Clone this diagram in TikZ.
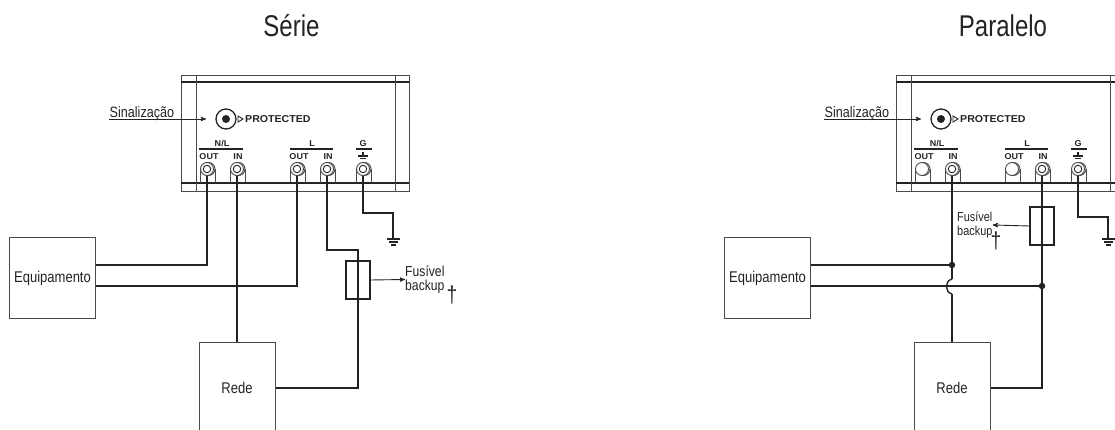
\documentclass[tikz,border=0pt]{standalone}
\usepackage{fontspec}
\setmainfont{Liberation Sans}[FakeStretch=0.84]
\newfontfamily\titlefont{Liberation Sans}[FakeStretch=0.8]
\newfontfamily\panelfont{Liberation Sans}[FakeStretch=1.06]
\usepackage{tikz}
\usetikzlibrary{arrows}
\definecolor{wirecol}{HTML}{232323}
\definecolor{boxcol}{HTML}{4A4A4A}
\tikzset{
  sizedfont/.style = {font=\fontsize{#1}{#1}\selectfont},
  wire/.style = {draw=wirecol, line width=1.4pt},
  thinline/.style = {draw=boxcol, line width=0.9pt},
  blockbox/.style = {rectangle, draw=boxcol, line width=1pt, inner sep=0pt,
    align=center, text=wirecol, sizedfont=15.5},% Equipamento, Rede
  fusebox/.style = {rectangle, draw=wirecol, line width=1.2pt, inner sep=0pt,
    minimum width=24pt, minimum height=38pt},
  dotjoin/.style = {circle, fill=wirecol, inner sep=0pt, minimum size=6.5pt},
  termshell/.style = {circle, draw=boxcol, fill=white, line width=0.9pt,
    inner sep=0pt, minimum size=13pt},
  termring/.style = {circle, draw=wirecol, line width=0.9pt, inner sep=0pt,
    minimum size=#1},
  panellabel/.style = {inner sep=0pt, text=wirecol,
    font=\panelfont\bfseries\fontsize{8.5}{8.5}\selectfont},
  notelabel/.style = {inner sep=0pt, align=left, text=wirecol,
    font=\fontsize{14.5}{14}\selectfont},
  titlelabel/.style = {inner sep=0pt, anchor=base, text=wirecol,
    font=\titlefont\fontsize{30}{30}\selectfont},
  daggermark/.style = {inner sep=0pt, text=wirecol,
    font=\fontsize{23}{23}\selectfont},
  earth/.pic = {
    \draw[wirecol, line width=1.2pt] (-6.5,0) -- (6.5,0);
    \draw[wirecol, line width=1.2pt] (-4.5,3) -- (4.5,3);
    \draw[wirecol, line width=1.2pt] (-2.5,6) -- (2.5,6);
  }
}
\begin{document}
\begin{tikzpicture}[x=1pt,y=-1pt,>=stealth']
\useasboundingbox (0,0) rectangle (1115,430);
\clip (0,0) rectangle (1115,430);

\node [titlelabel] (stitle) at (291.5,37) {Série};
\node [titlelabel] (ptitle) at (1003,37) {Paralelo};

% caixa do protetor, igual nos dois paineis
\foreach \panel/\dx in {s/0,p/715}{
\begin{scope}[xshift=\dx pt]
  \node [rectangle, thinline, inner sep=0pt, minimum width=228pt,
    minimum height=116pt] (\panel case) at (295,133) {};
  \draw [wire] (181,82) -- (409,82);
  \draw [wire] (181,183) -- (409,183);
  \draw [thinline] (196,75) -- (196,191);
  \draw [thinline] (395,75) -- (395,191);

  \foreach \term/\tx in {nout/207,nin/237,lout/297,lin/327,g/363}{
    \draw [thinline] (\tx-6.5,169) -- (\tx-6.5,183);
    \draw [thinline] (\tx+8,169) -- (\tx+8,183);
    \node [termshell] (\panel\term back) at (\tx+1.5,169) {};
    \node [termshell] (\panel\term) at (\tx,169) {};
  }

  % sinalizacao
  \node [circle, draw=wirecol, line width=1.3pt, inner sep=0pt, minimum size=20pt]
    (\panel led) at (226,119) {};
  \node [circle, fill=wirecol, inner sep=0pt, minimum size=8pt] (\panel ledin) at (\panel led) {};
  \draw [thinline, draw=wirecol] (238,116) -- (243,119) -- (238,122) -- cycle;
  \node [panellabel, anchor=west, font=\panelfont\bfseries\fontsize{10}{10}\selectfont]
    (\panel prot) at (245,119) {PROTECTED};
  \node [notelabel, anchor=base west, font=\fontsize{15}{15}\selectfont]
    (\panel sinal) at (109.5,117.5) {Sinalização};
  \coordinate (\panel sinala) at (109,119);
  \coordinate (\panel sinalb) at (206,119);
  \draw [->, thinline, draw=wirecol] (\panel sinala) -- (\panel sinalb);

  % bornes
  \node [panellabel] (\panel nl) at (222,143.5) {N/L};
  \node [panellabel] (\panel l) at (312,143.5) {L};
  \node [panellabel] (\panel gl) at (363,143.5) {G};
  \node [panellabel] (\panel outa) at (209,157) {OUT};
  \node [panellabel] (\panel ina) at (238,157) {IN};
  \node [panellabel] (\panel outb) at (299,157) {OUT};
  \node [panellabel] (\panel inb) at (328,157) {IN};
  \draw [wire] (199,149) -- (243,149);
  \draw [wire] (290,149) -- (333,149);
  \draw [wire] (356,149) -- (372,149);
  \draw [wire] (363,152) -- (363,156);
  \draw [wire] (358,156) -- (368,156);
  \draw [wire] (360,158.5) -- (366,158.5);

  % blocos
  \node [blockbox, minimum width=76pt, minimum height=80pt, minimum width=86pt] (\panel equip) at (52.5,278) {Equipamento};
  \node [blockbox, minimum width=76pt, minimum height=92pt] (\panel rede) at (237,388) {Rede};
  \coordinate (\panel equipa) at (95.5,265);
  \coordinate (\panel equipb) at (95.5,286);

  \pic at (393,239) {earth};
  \coordinate (\panel earth) at (393,238);
\end{scope}
}

% aneis dos bornes ligados
\foreach \term in {snout,snin,slout,slin,sg,pnin,plin,pg}{
  \node [termring=7.5pt] (\term ring) at (\term) {};
}

% serie
\node [fusebox] (sfuse) at (358,280) {};
\coordinate (sbend) at (358,250);
\coordinate (sgbend) at (393,213);
\draw [wire] (snout) |- (sequipa);
\draw [wire] (snin) -- (snin |- srede.north);
\draw [wire] (slout) |- (sequipb);
\draw [wire] (slin) |- (sbend) -- (sfuse.north) -- (sfuse.south) |- (srede.east);
\draw [wire] (sg) |- (sgbend) -- (searth);
\node [notelabel, anchor=west] (sfusetxt) at (405,279.5) {Fusível\\backup};
\draw [->, thinline, draw=wirecol] (sfuse.east) -- (sfusetxt.west);
\node [daggermark] (sdagger) at (452,295) {†};

% paralelo
\node [fusebox] (pfuse) at (1042,226) {};
\node [dotjoin] (pdota) at (952,265) {};
\node [dotjoin] (pdotb) at (1042,286) {};
\coordinate (pjumpa) at (952,279);
\coordinate (pjumpb) at (952,294);
\coordinate (pgbend) at (1108,217);
\draw [wire] (pnin) -- (pdota);
\draw [wire] (pdota) -- (pjumpa);
\draw [wire] (pjumpa) .. controls (944.5,281) and (944.5,292) .. (pjumpb);
\draw [wire] (pjumpb) -- (pjumpb |- prede.north);
\draw [wire] (pequipa) -- (pdota);
\draw [wire] (pequipb) -- (pdotb);
\draw [wire] (plin) -- (pfuse.north) -- (pfuse.south) -- (pdotb) |- (prede.east);
\draw [wire] (pg) |- (pgbend) -- (pearth);
\node [notelabel, anchor=west, font=\fontsize{13}{14}\selectfont] (pfusetxt) at (957,225) {Fusível\\backup};
\draw [->, thinline, draw=wirecol] (pfuse.west) -- (pfusetxt.east);
\node [daggermark] (pdagger) at (996,240.5) {†};
\end{tikzpicture}
\end{document}
